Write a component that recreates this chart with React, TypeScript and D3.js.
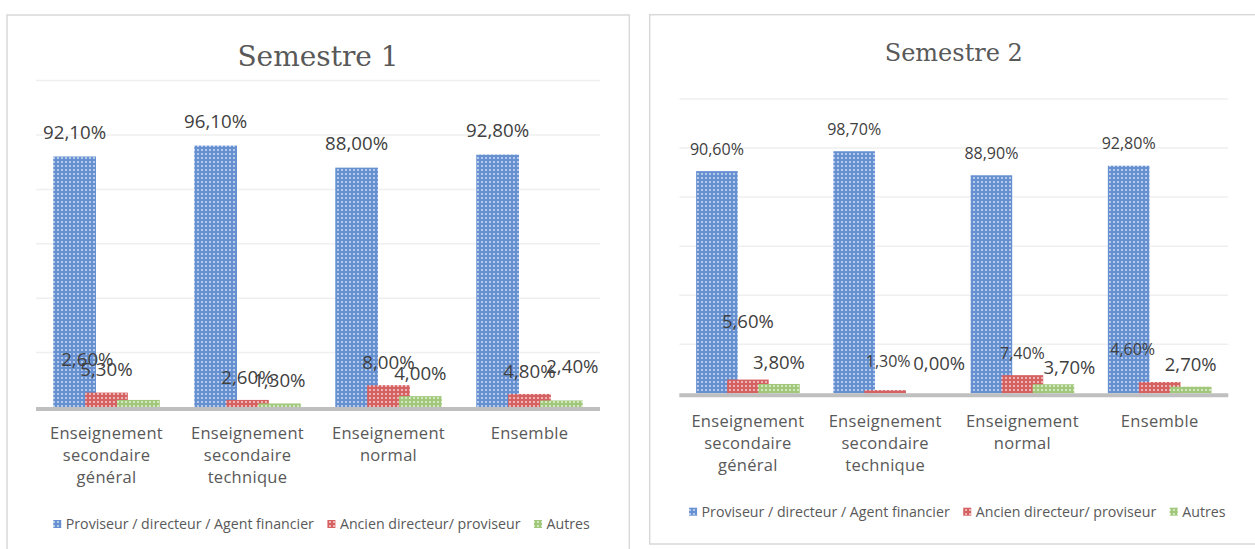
import React from 'react';
import * as d3 from 'd3';

// ---------- data ----------
const categories: string[][] = [
  ['Enseignement', 'secondaire', 'général'],
  ['Enseignement', 'secondaire', 'technique'],
  ['Enseignement', 'normal'],
  ['Ensemble'],
];
const seriesNames = [
  'Proviseur / directeur / Agent financier',
  'Ancien directeur/ proviseur',
  'Autres',
];
const s1Proviseur = [92.1, 96.1, 88.0, 92.8];
const s1Ancien = [5.3, 2.6, 8.0, 4.8];
const s1Autres = [2.6, 1.3, 4.0, 2.4];
const s2Proviseur = [90.6, 98.7, 88.9, 92.8];
const s2Ancien = [5.6, 1.3, 7.4, 4.6];
const s2Autres = [3.8, 0.0, 3.7, 2.7];
const yTicks = [0, 20, 40, 60, 80, 100, 120];

// ---------- styling / layout ----------
const patternIds = ['pBlue', 'pRed', 'pGreen'];
const s1LabelSizes = [
  [18.7, 18.7, 18.7, 18.7],
  [18.7, 18.7, 18.7, 18.7],
  [18.7, 18.7, 18.7, 18.7],
];
const s2LabelSizes = [
  [16, 16, 16, 16],
  [18.5, 16, 16, 16],
  [18.5, 18.5, 18.5, 18.5],
];
// manual label displacements (dx, dy) as in the reference
const s1LabelNudge = [
  [[0, -1], [0, -1], [0, -1], [0, -1]],
  [[0, 0], [0, 0], [0, 0], [0, 0]],
  [[-51, -18], [0, 0], [0, 0], [11, -11]],
];
const s2LabelNudge = [
  [[0, 0], [0, 0], [0, 0], [0, 0]],
  [[0, -36], [3, -7], [0, 0], [-27, -11]],
  [[0, 0], [23, -8], [16, 5], [0, 0]],
];

const fmt = (v: number) => d3.format('.2f')(v).replace('.', ',') + '%';

let measureCtx: CanvasRenderingContext2D | null = null;
function textWidth(t: string, font: string) {
  if (!measureCtx) measureCtx = document.createElement('canvas').getContext('2d');
  if (!measureCtx) return t.length * 6.5;
  measureCtx.font = font;
  return measureCtx.measureText(t).width;
}

type ChartProps = {
  panel: { x: number; y: number; w: number; h: number };
  x0: number; x1: number; yTop: number; yBase: number;
  title: string; titleSize: number; titleY: number;
  series: number[][];
  labelSizes: number[][];
  nudges: number[][][];
  labelGap: number;
  catY: number;
  legendY: number;
};

function Chart(p: ChartProps) {
  const x = d3.scaleBand<number>().domain(d3.range(categories.length)).range([p.x0, p.x1]).padding(0);
  const y = d3.scaleLinear().domain([0, 120]).range([p.yBase, p.yTop]);
  const band = x.bandwidth();
  const barW = band * 0.303;
  const step = band * 0.226;
  const groupW = barW + 2 * step;
  const cx = (i: number) => (x(i) as number) + band / 2;
  const mid = (p.x0 + p.x1) / 2;

  // legend layout
  const lSize = 14.2;
  const lFont = `${lSize}px "Open Sans"`;
  const sq = 8, sqGap = 4.5, itemGap = 13.5;
  const widths = seriesNames.map((n) => textWidth(n, lFont));
  const total = widths.reduce((a, w) => a + sq + sqGap + w, 0) + itemGap * (seriesNames.length - 1);
  let lx = mid + 3.5 - total / 2;
  const legendItems = seriesNames.map((n, i) => {
    const item = { n, i, x: lx };
    lx += sq + sqGap + widths[i] + itemGap;
    return item;
  });

  return (
    <g>
      <rect x={p.panel.x} y={p.panel.y} width={p.panel.w} height={p.panel.h} fill="#fff" stroke="#d9d9d9" strokeWidth={1.5} />
      <text x={mid} y={p.titleY} textAnchor="middle" fontFamily='"DejaVu Serif", serif' fontSize={p.titleSize} fill="#595959">{p.title}</text>
      {yTicks.slice(1).map((t) => (
        <line key={t} x1={p.x0} x2={p.x1} y1={y(t)} y2={y(t)} stroke="#efefef" strokeWidth={1.5} />
      ))}
      {p.series.map((vals, s) =>
        vals.map((v, c) => (
          <rect key={`b${s}-${c}`} x={cx(c) - groupW / 2 + s * step} y={y(v)} width={barW} height={p.yBase - y(v)} fill={`url(#${patternIds[s]})`} />
        ))
      )}
      <line x1={p.x0} x2={p.x1} y1={p.yBase + 2} y2={p.yBase + 2} stroke="#bfbfbf" strokeWidth={4} />
      {p.series.map((vals, s) =>
        vals.map((v, c) => {
          const bx = cx(c) - groupW / 2 + s * step + barW / 2;
          const [dx, dy] = p.nudges[s][c];
          return (
            <text key={`l${s}-${c}`} x={bx + dx} y={y(v) - p.labelGap + dy} dy="0.36em" textAnchor="middle" fontFamily='"Open Sans", sans-serif' fontSize={p.labelSizes[s][c]} fill="#404040">
              {fmt(v)}
            </text>
          );
        })
      )}
      {categories.map((lines, c) => (
        <text key={`c${c}`} textAnchor="middle" fontFamily='"Open Sans", sans-serif' fontSize={16.5} letterSpacing={0.3} fill="#595959">
          {lines.map((ln, k) => (
            <tspan key={k} x={cx(c)} y={p.catY + k * 21.7}>{ln}</tspan>
          ))}
        </text>
      ))}
      {legendItems.map((it) => (
        <g key={`lg${it.i}`}>
          <rect x={it.x} y={p.legendY - 9} width={sq} height={sq} fill={`url(#${patternIds[it.i]})`} />
          <text x={it.x + sq + sqGap} y={p.legendY} fontFamily='"Open Sans", sans-serif' fontSize={lSize} fill="#595959">{it.n}</text>
        </g>
      ))}
    </g>
  );
}

function Pattern({ id, base, light }: { id: string; base: string; light: string }) {
  return (
    <pattern id={id} width={4} height={4} patternUnits="userSpaceOnUse">
      <rect width={4} height={4} fill={base} />
      <rect x={1} y={1} width={2} height={2} fill={light} />
    </pattern>
  );
}

export default function App() {
  return (
    <svg width={1255} height={549} style={{ position: 'absolute', left: 0, top: 0, background: '#fff' }}>
      <defs>
        <Pattern id="pBlue" base="#6790d1" light="#b3caed" />
        <Pattern id="pRed" base="#d46262" light="#efb3b3" />
        <Pattern id="pGreen" base="#a0c77a" light="#d3e7c0" />
      </defs>
      <Chart
        panel={{ x: 7, y: 15, w: 622.3, h: 560 }}
        x0={36} x1={600} yTop={80.6} yBase={407}
        title="Semestre 1" titleSize={28} titleY={65.5}
        series={[s1Proviseur, s1Ancien, s1Autres]}
        labelSizes={s1LabelSizes}
        nudges={s1LabelNudge}
        labelGap={23}
        catY={439.3}
        legendY={529}
      />
      <Chart
        panel={{ x: 649.7, y: 14.7, w: 620, h: 529.3 }}
        x0={679.3} x1={1228.3} yTop={99} yBase={393.3}
        title="Semestre 2" titleSize={24} titleY={61}
        series={[s2Proviseur, s2Ancien, s2Autres]}
        labelSizes={s2LabelSizes}
        nudges={s2LabelNudge}
        labelGap={22}
        catY={427.3}
        legendY={516.7}
      />
    </svg>
  );
}
